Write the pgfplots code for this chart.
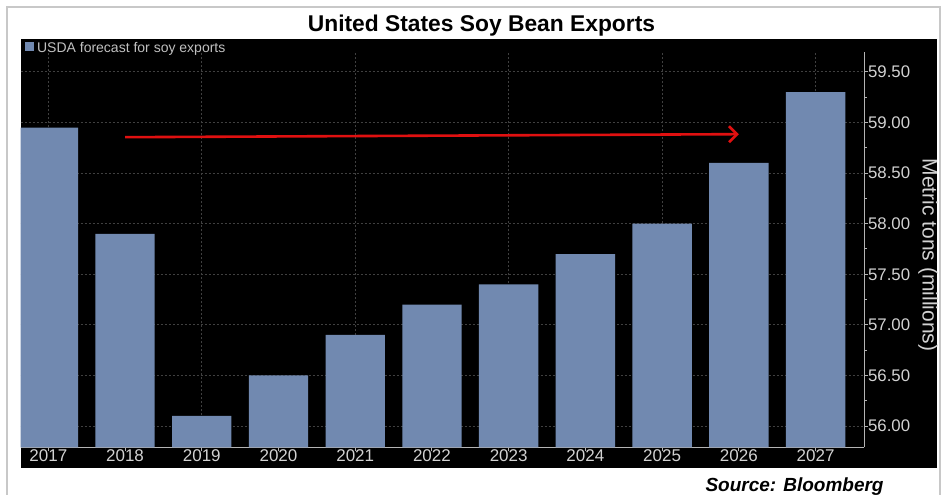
\documentclass[border=0pt]{standalone}
\usepackage{pgfplots}
\pgfplotsset{compat=1.18}
\usepackage{fontspec}
\setmainfont{Liberation Sans}
\usetikzlibrary{arrows.meta}
\definecolor{barblue}{HTML}{7189B0}
\definecolor{lblgray}{HTML}{D2D2D2}
\definecolor{legendgray}{HTML}{C0C0C0}
\definecolor{axisgray}{HTML}{B4B4B4}
\definecolor{gridgray}{HTML}{404040}
\definecolor{framegray}{HTML}{C8C8C8}
\definecolor{arrowred}{HTML}{E01010}
\begin{document}
\begin{tikzpicture}
\path[use as bounding box, fill=white] (0,0) rectangle (472pt,247pt);
\draw[framegray, line width=1pt] (3.5pt,-5pt) -- (3.5pt,243.6pt) -- (470pt,243.6pt) -- (470pt,-5pt);
\fill[black] (10.35pt,13.1pt) rectangle (468.35pt,227.35pt);
\node[anchor=base, inner sep=0pt, font=\fontsize{11.4}{13}\selectfont\bfseries] at (240.75pt,231.15pt) {United States Soy Bean Exports};
\fill[barblue] (12.5pt,221.4pt) rectangle (17pt,225.8pt);
\node[anchor=base west, inner sep=0pt, text=legendgray, font=\fontsize{7}{8}\selectfont] at (18.35pt,220.85pt) {USDA forecast for soy exports};
\node[anchor=base east, inner sep=0pt, font=\fontsize{9.5}{11}\selectfont\bfseries\itshape] at (442pt,1.5pt) {Source: Bloomberg};
\node[rotate=-90, inner sep=0pt, text=lblgray, font=\fontsize{10.5}{12}\selectfont] at (464pt,119.5pt) {Metric tons (millions)};
\begin{axis}[
  at={(10.35pt,23.35pt)}, anchor=south west,
  width=421.8pt, height=197.8pt, scale only axis,
  xmin=-0.36, xmax=10.635, ymin=55.79, ymax=59.70,
  axis x line*=bottom, axis y line*=right,
  axis line style={draw=axisgray, line width=0.5pt},
  ybar, bar width=0.774,
  xtick={0,2,4,6,8,10},
  xticklabels={2017,2019,2021,2023,2025,2027},
  extra x ticks={1,3,5,7,9},
  extra x tick labels={2018,2020,2022,2024,2026},
  extra x tick style={grid=none},
  ytick={56,56.5,57,57.5,58,58.5,59,59.5},
  minor y tick num=1,
  tick align=outside, major tick length=2pt, minor tick length=1.2pt,
  tick style={axisgray, line width=0.5pt},
  xmajorgrids, ymajorgrids,
  major grid style={gridgray, line width=0.5pt, dash pattern=on 1pt off 1pt},
  xticklabel style={text=lblgray, font=\fontsize{8.5}{10}\selectfont, inner sep=0pt, anchor=north, yshift=0.9pt},
  yticklabel style={text=lblgray, font=\fontsize{8.4}{10}\selectfont, inner sep=0pt, xshift=-0.3pt,
    /pgf/number format/.cd, fixed, fixed zerofill, precision=2},
  /pgf/number format/assume math mode=true,
]
\addplot[fill=barblue, draw=none] coordinates {
  (0,58.95) (1,57.90) (2,56.10) (3,56.50) (4,56.90) (5,57.20)
  (6,57.40) (7,57.70) (8,58.00) (9,58.60) (10,59.30)};
\addplot[sharp plot, arrowred, line width=1.3pt, -{Straight Barb[length=4pt,width=8pt]}, forget plot]
  coordinates {(1,58.855) (9.0,58.885)};
\end{axis}
\end{tikzpicture}
\end{document}
